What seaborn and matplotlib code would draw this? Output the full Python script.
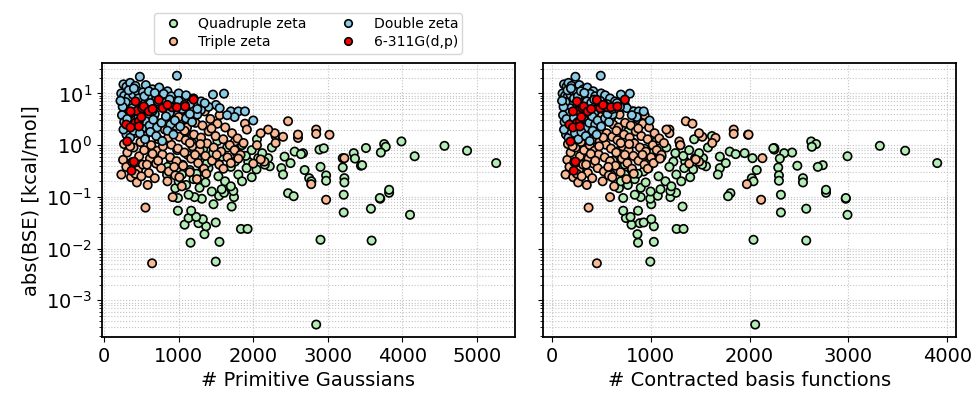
import matplotlib
matplotlib.use("Agg")
import matplotlib.pyplot as plt
import pandas as pd
import seaborn as sns

# basis set families, in legend / drawing order
basis_names = ['Quadruple zeta', 'Triple zeta', 'Double zeta', '6-311G(d,p)']
basis_colors = ['#b4ecb6', '#f8b994', '#8ccbe6', '#ff0000']

# each row: (# primitive gaussians, # contracted functions, abs(BSE) kcal/mol)
qz_points = [
    (2844, 2057, 0.00034), (2902, 2040, 0.0148), (3587, 2573, 0.0143),
    (1497, 997, 0.0056), (1547, 1033, 0.0135), (1160, 873, 0.013),
    (1346, 867, 0.019), (1835, 1263, 0.024), (1924, 1333, 0.024),
    (1368, 1033, 0.027), (1080, 807, 0.029), (1266, 890, 0.031),
    (1497, 930, 0.032), (1324, 1007, 0.037), (1133, 750, 0.039),
    (1235, 797, 0.041), (990, 723, 0.054), (1168, 873, 0.054),
    (4102, 2990, 0.045), (3213, 2317, 0.050), (3578, 2573, 0.059),
    (1711, 1323, 0.065), (1467, 1007, 0.072), (1311, 997, 0.092),
    (3702, 2973, 0.092), (990, 723, 0.095), (1213, 900, 0.099),
    (1742, 1200, 0.099), (1542, 1073, 0.105), (1133, 840, 0.11),
    (2467, 1807, 0.118), (2542, 1783, 0.103), (1609, 1257, 0.12),
    (3822, 2773, 0.12), (3822, 2773, 0.137), (3697, 2973, 0.095),
    (5257, 3897, 0.45), (4867, 3573, 0.78), (4564, 3317, 0.97),
    (4164, 2990, 0.61), (3987, 2623, 1.18), (3755, 2673, 1.05),
    (3777, 2630, 0.93), (3711, 2430, 0.72), (3511, 2250, 0.88),
    (3347, 2350, 0.70), (3364, 2306, 0.55), (3444, 2483, 0.40),
    (3460, 2740, 0.41), (3200, 2030, 0.56), (3200, 2290, 0.37),
    (3222, 2540, 0.23), (3222, 2540, 0.19), (3213, 2317, 0.11),
    (2888, 2250, 0.82), (2946, 2240, 0.87), (2689, 2073, 0.33),
    (2902, 2690, 0.38), (2977, 2297, 0.26), (2977, 2297, 0.205),
    (2667, 1950, 0.70), (2750, 2023, 0.23), (2780, 2040, 0.20),
    (844, 600, 0.27), (1044, 740, 0.27), (955, 680, 0.147),
    (1444, 1000, 0.127), (1311, 930, 0.31), (1400, 980, 0.36),
    (1755, 1230, 0.48), (1933, 1350, 0.48), (2067, 1450, 0.56),
    (2200, 1530, 0.56), (2222, 1560, 0.39), (2377, 1700, 0.36),
    (2555, 1800, 0.75), (2640, 1860, 0.67), (2400, 1680, 0.27),
    (1577, 1100, 0.14), (1733, 1200, 0.13), (1533, 1080, 0.25),
    (1622, 1150, 0.20), (1800, 1260, 0.27), (1911, 1340, 0.36),
    (2044, 1430, 0.34), (2155, 1520, 0.42), (900, 620, 0.50),
    (980, 690, 0.80), (1050, 740, 0.42), (1120, 790, 0.65),
    (1180, 830, 1.10), (1250, 870, 0.55), (1330, 940, 0.85),
    (1380, 970, 0.45), (1460, 1020, 0.70), (1520, 1060, 1.20),
    (1580, 1110, 0.60), (1650, 1160, 0.90), (1700, 1190, 0.38),
    (1780, 1250, 0.70), (1850, 1300, 1.00), (1900, 1330, 0.62),
    (1980, 1390, 0.80), (2050, 1440, 1.30), (2120, 1490, 0.70),
    (2250, 1580, 0.90), (2300, 1620, 1.50), (2420, 1700, 0.60),
    (2500, 1760, 0.45), (1000, 700, 0.20), (1100, 770, 0.17),
    (1200, 840, 0.22), (1280, 900, 0.15), (1360, 950, 0.19),
    (1150, 810, 0.33), (1240, 870, 0.28), (850, 590, 0.38),
    (1700, 1210, 0.16), (1850, 1310, 0.20), (1980, 1400, 0.24),
    (1100, 773, 1.84),
]

tz_points = [
    (555, 373, 0.062), (644, 457, 0.0052), (920, 590, 0.099),
    (2977, 2117, 0.088), (2777, 1973, 0.176), (3222, 2130, 0.56),
    (2844, 1840, 2.0), (2844, 1840, 1.65), (3022, 1985, 1.59),
    (2467, 1356, 2.9), (1889, 1423, 2.6), (2600, 1656, 1.38),
    (2600, 1990, 1.6), (2400, 1523, 1.45), (2288, 1490, 1.7),
    (2200, 1190, 2.0), (2100, 1190, 1.7), (1755, 1290, 1.18),
    (2050, 1300, 1.0), (2150, 1490, 0.48), (2000, 1390, 0.44),
    (2100, 1456, 0.53), (2300, 1623, 1.1), (265, 160, 7.0),
    (232, 140, 0.27), (255, 158, 0.52), (268, 165, 1.05), (285, 172, 1.9),
    (298, 180, 0.38), (312, 192, 0.72), (330, 200, 1.35), (345, 210, 2.6),
    (362, 218, 0.24), (378, 228, 0.47), (395, 242, 0.9), (410, 250, 1.7),
    (425, 258, 3.1), (440, 268, 0.19), (455, 276, 0.33), (470, 285, 0.61),
    (488, 296, 1.15), (505, 305, 2.1), (520, 318, 0.42), (538, 328, 0.8),
    (552, 335, 1.5), (570, 345, 2.8), (585, 355, 0.17), (600, 366, 0.29),
    (615, 372, 0.55), (632, 385, 1.0), (648, 394, 1.85), (665, 402, 3.4),
    (680, 410, 0.23), (698, 424, 0.44), (715, 433, 0.78), (730, 445, 1.3),
    (748, 452, 2.4), (765, 465, 0.36), (782, 475, 0.66), (800, 486, 1.2),
    (815, 494, 2.0), (832, 505, 3.6), (850, 515, 0.2), (868, 528, 0.31),
    (885, 536, 0.58), (902, 548, 1.02), (920, 556, 1.7), (938, 570, 2.9),
    (955, 578, 0.26), (972, 590, 0.49), (990, 600, 0.86), (1008, 612, 1.45),
    (1025, 622, 2.5), (1042, 632, 0.16), (1060, 645, 0.4), (1078, 652, 0.72),
    (1095, 665, 1.25), (1112, 675, 2.2), (1130, 686, 3.9), (1150, 696, 0.3),
    (1168, 710, 0.55), (1185, 718, 0.95), (1205, 731, 1.6), (1225, 742, 2.7),
    (1245, 756, 0.22), (1262, 765, 0.45), (1280, 778, 0.8), (1300, 788, 1.4),
    (1320, 800, 2.4), (1340, 812, 0.35), (1360, 826, 0.62), (1380, 836, 1.08),
    (1402, 850, 1.85), (1425, 865, 3.2), (1448, 878, 0.5), (1470, 892, 0.9),
    (1495, 906, 1.5), (1520, 922, 2.6), (1545, 938, 0.42), (1570, 952, 0.75),
    (1598, 970, 1.3), (1625, 985, 2.2), (1655, 1005, 0.58), (1685, 1022, 1.0),
    (1715, 1040, 1.7), (1750, 1062, 0.8), (1790, 1088, 1.35), (1830, 1110, 0.65),
    (1870, 1135, 1.1), (1915, 1160, 2.0),
    (350, 212, 0.95), (420, 255, 0.28), (500, 303, 0.25), (575, 348, 0.42),
    (650, 395, 0.68), (725, 440, 0.5), (790, 480, 0.95), (860, 522, 1.4),
    (940, 572, 0.38), (1010, 613, 0.24), (1080, 655, 1.9), (1150, 698, 1.1),
    (1220, 740, 0.65), (1290, 783, 1.05), (1370, 830, 0.28), (1440, 875, 2.1),
    (1510, 918, 0.65), (1600, 972, 0.35), (1700, 1030, 0.45), (1800, 1095, 0.55),
    (620, 375, 4.2), (900, 545, 4.8), (1000, 605, 3.5), (1350, 820, 4.5),
    (1550, 940, 3.8),
]

dz_points = [
    (480, 240, 21), (977, 496, 22), (260, 125, 15), (300, 150, 13.5),
    (350, 170, 16), (420, 200, 14), (560, 280, 14.5), (650, 320, 12),
    (740, 360, 13), (850, 420, 11), (230, 110, 10), (270, 135, 9),
    (330, 160, 8.5), (390, 190, 9.5), (450, 220, 11), (520, 255, 10.5),
    (610, 300, 9), (700, 340, 8.2), (800, 390, 9.8), (900, 440, 8.8),
    (1000, 500, 10), (1100, 540, 9.2), (1200, 590, 8), (1300, 640, 7),
    (1460, 700, 9.5), (1608, 790, 9.9), (1500, 740, 6), (1550, 760, 5.2),
    (1400, 690, 5.5), (1300, 630, 4.8), (1350, 660, 6.5), (1700, 830, 4.5),
    (1800, 880, 4.5), (1889, 930, 4.5), (2000, 990, 3.0), (1750, 860, 3.5),
    (1650, 810, 3.8), (1150, 560, 6.2), (1050, 520, 5.0), (950, 470, 6.8),
    (880, 430, 4.2), (760, 375, 5.8), (680, 335, 4.0), (620, 305, 6.5),
    (580, 285, 3.5), (500, 245, 7.5), (430, 210, 6.0), (380, 185, 5.2),
    (340, 165, 4.2), (290, 140, 6.8), (250, 120, 5.5), (220, 105, 7.2),
    (240, 115, 3.8), (270, 130, 2.8), (310, 150, 3.2), (360, 175, 2.3),
    (410, 200, 2.6), (460, 225, 3.4), (510, 250, 2.1), (560, 275, 2.9),
    (610, 300, 2.4), (660, 325, 3.1), (710, 350, 2.2), (770, 380, 2.7),
    (830, 410, 3.6), (890, 440, 2.5), (950, 465, 3.0), (1020, 500, 2.3),
    (1100, 540, 3.3), (1180, 580, 2.8), (1250, 615, 3.9), (300, 145, 1.6),
    (350, 170, 1.4), (400, 195, 1.9), (480, 235, 1.7), (550, 270, 1.3),
    (620, 300, 1.8), (700, 345, 1.5), (780, 385, 1.2), (850, 415, 1.9),
    (930, 455, 1.6), (260, 125, 2.0), (330, 160, 11.5), (400, 195, 12.5),
    (460, 225, 8.0), (540, 265, 8.8), (600, 295, 11.0), (680, 330, 10.2),
    (560, 275, 5.0), (650, 320, 4.6), (720, 355, 7.0), (820, 400, 6.6),
    (880, 430, 7.6), (1000, 490, 7.2), (1080, 530, 6.0), (1150, 565, 4.0),
    (1250, 610, 5.0),
]

pople_points = [
    (421, 256, 7.0), (444, 270, 4.6), (355, 215, 4.5), (511, 310, 5.2),
    (533, 325, 5.6), (600, 365, 4.5), (733, 456, 7.5), (787, 490, 5.2),
    (911, 560, 5.4), (977, 600, 5.4), (1088, 665, 5.6), (1200, 740, 7.6),
    (421, 256, 2.7), (467, 285, 2.9), (297, 180, 2.5), (355, 215, 2.2),
    (467, 285, 2.3), (311, 190, 1.18), (400, 240, 0.48), (368, 223, 0.32),
    (650, 400, 5.0), (850, 520, 6.0), (500, 300, 3.5),
]

frames = []
for name, pts in zip(basis_names, [qz_points, tz_points, dz_points, pople_points]):
    d = pd.DataFrame(pts, columns=['prim', 'contr', 'err'])
    d['basis'] = name
    frames.append(d)
df = pd.concat(frames, ignore_index=True)

sns.set_style('ticks')
plt.rcParams['font.family'] = ['DejaVu Sans']
plt.rcParams['font.size'] = 14
plt.rcParams['axes.linewidth'] = 1.3
for key in ['text.color', 'axes.labelcolor', 'xtick.color', 'ytick.color',
            'axes.edgecolor']:
    plt.rcParams[key] = 'black'

fig = plt.figure(figsize=(9.74, 3.93), dpi=100)
ax1 = fig.add_axes([0.1044, 0.1425, 0.4243, 0.6965])
ax2 = fig.add_axes([0.5578, 0.1425, 0.4237, 0.6965], sharey=ax1)

palette = dict(zip(basis_names, basis_colors))
for ax, col, xlab in [(ax1, 'prim', '# Primitive Gaussians'),
                      (ax2, 'contr', '# Contracted basis functions')]:
    sns.scatterplot(data=df, x=col, y='err', hue='basis', hue_order=basis_names,
                    palette=palette, s=36, edgecolor='black', linewidth=1.2,
                    ax=ax, legend=(ax is ax1))
    ax.set_yscale('log')
    ax.set_axisbelow(True)
    ax.grid(True, which='both', linestyle=':', color='#c4c4c4', linewidth=0.8)
    ax.set_xlabel(xlab, fontsize=14)
    ax.tick_params(labelsize=14, colors='black')

ax1.set_ylabel('abs(BSE) [kcal/mol]', fontsize=14)
ax2.set_ylabel('')
ax2.tick_params(labelleft=False)

handles, labels = ax1.get_legend_handles_labels()
leg = ax1.legend(handles, labels, loc='lower center', bbox_to_anchor=(0.5, 1.01),
                 ncol=2, fontsize=10.1, markerscale=0.9, frameon=True,
                 columnspacing=2.0, handletextpad=0.8, labelspacing=0.3,
                 borderpad=0.3)
for t in leg.get_texts():
    t.set_color('black')

fig.savefig('out.png', dpi=100)
